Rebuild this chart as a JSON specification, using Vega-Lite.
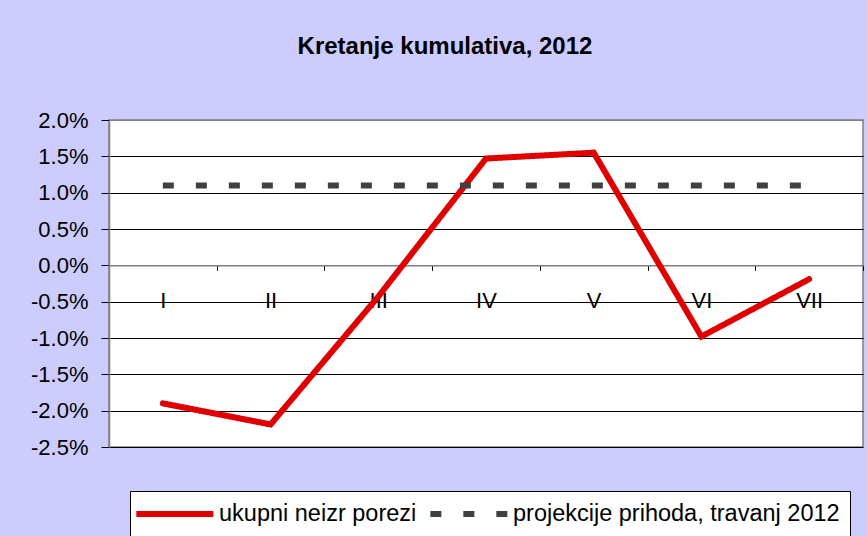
{
  "$schema": "https://vega.github.io/schema/vega-lite/v6.json",
  "width": 754,
  "height": 327,
  "autosize": {"type": "none"},
  "padding": {"left": 109, "top": 120, "right": 4, "bottom": 89},
  "background": "#CCCCFF",
  "title": {
    "text": "Kretanje kumulativa, 2012",
    "font": "Liberation Sans",
    "fontSize": 24,
    "fontWeight": "bold",
    "color": "black",
    "anchor": "middle",
    "frame": "group",
    "dx": -41,
    "offset": 50
  },
  "config": {
    "view": {"fill": "white", "stroke": "#808080", "strokeWidth": 1.5},
    "font": "Liberation Sans"
  },
  "data": {
    "values": [
      {"month": "I", "series": "ukupni neizr porezi", "value": -0.0190},
      {"month": "II", "series": "ukupni neizr porezi", "value": -0.0219},
      {"month": "III", "series": "ukupni neizr porezi", "value": -0.0043},
      {"month": "IV", "series": "ukupni neizr porezi", "value": 0.0147},
      {"month": "V", "series": "ukupni neizr porezi", "value": 0.0155},
      {"month": "VI", "series": "ukupni neizr porezi", "value": -0.0098},
      {"month": "VII", "series": "ukupni neizr porezi", "value": -0.0019},
      {"month": "I", "series": "projekcije prihoda, travanj 2012", "value": 0.011},
      {"month": "II", "series": "projekcije prihoda, travanj 2012", "value": 0.011},
      {"month": "III", "series": "projekcije prihoda, travanj 2012", "value": 0.011},
      {"month": "IV", "series": "projekcije prihoda, travanj 2012", "value": 0.011},
      {"month": "V", "series": "projekcije prihoda, travanj 2012", "value": 0.011},
      {"month": "VI", "series": "projekcije prihoda, travanj 2012", "value": 0.011},
      {"month": "VII", "series": "projekcije prihoda, travanj 2012", "value": 0.011}
    ]
  },
  "encoding": {
    "x": {
      "field": "month",
      "type": "ordinal",
      "sort": ["I", "II", "III", "IV", "V", "VI", "VII"],
      "bandPosition": 0.5,
      "scale": {"type": "band", "paddingInner": 0, "paddingOuter": 0},
      "axis": {
        "title": null,
        "orient": "bottom",
        "offset": -181.67,
        "labelAngle": 0,
        "labelFont": "Liberation Sans",
        "labelFontSize": 22,
        "labelColor": "black",
        "labelPadding": 20,
        "domainColor": "#808080",
        "domainWidth": 1.5,
        "tickColor": "black",
        "tickSize": 5,
        "tickBand": "extent",
        "grid": false
      }
    },
    "y": {
      "field": "value",
      "type": "quantitative",
      "scale": {"domain": [-0.025, 0.02], "nice": false, "zero": false},
      "axis": {
        "title": null,
        "values": [-0.025, -0.02, -0.015, -0.01, -0.005, 0, 0.005, 0.01, 0.015, 0.02],
        "format": ".1%",
        "labelExpr": "replace(datum.label, '\u2212', '-')",
        "labelFont": "Liberation Sans",
        "labelFontSize": 22,
        "labelColor": "black",
        "labelPadding": 13,
        "tickSize": 8,
        "tickColor": "black",
        "domainColor": "#808080",
        "domainWidth": 1.5,
        "grid": true,
        "gridColor": {"condition": {"test": "datum.value === 0.02 || datum.value === 0", "value": "#808080"}, "value": "black"},
        "gridWidth": 1
      }
    },
    "color": {
      "field": "series",
      "type": "nominal",
      "scale": {
        "domain": ["ukupni neizr porezi", "projekcije prihoda, travanj 2012"],
        "range": ["#E00000", "#404040"]
      },
      "legend": {
        "title": null,
        "orient": "none",
        "legendX": 21,
        "legendY": 371,
        "direction": "horizontal",
        "fillColor": "white",
        "strokeColor": "black",
        "padding": 10,
        "symbolType": "M-1.73,0H6.27",
        "symbolSize": 370.5,
        "symbolStrokeWidth": 6,
        "labelFont": "Liberation Sans",
        "labelFontSize": 23.5,
        "labelColor": "black",
        "labelLimit": 500,
        "labelOffset": 53,
        "columnPadding": 1
      }
    },
    "strokeDash": {
      "field": "series",
      "type": "nominal",
      "scale": {
        "domain": ["ukupni neizr porezi", "projekcije prihoda, travanj 2012"],
        "range": [[1, 0], [11, 22]]
      },
      "legend": {
        "title": null,
        "orient": "none",
        "legendX": 21,
        "legendY": 371,
        "direction": "horizontal",
        "fillColor": "white",
        "strokeColor": "black",
        "padding": 10,
        "symbolType": "M-1.73,0H6.27",
        "symbolSize": 370.5,
        "symbolStrokeWidth": 6,
        "labelFont": "Liberation Sans",
        "labelFontSize": 23.5,
        "labelColor": "black",
        "labelLimit": 500,
        "labelOffset": 53,
        "columnPadding": 1
      }
    }
  },
  "layer": [
    {
      "transform": [{"filter": "datum.series === 'ukupni neizr porezi'"}],
      "mark": {"type": "line", "strokeWidth": 6, "strokeCap": "round", "strokeJoin": "miter"}
    },
    {
      "transform": [{"filter": "datum.series === 'projekcije prihoda, travanj 2012'"}],
      "mark": {"type": "line", "strokeWidth": 6, "strokeCap": "butt"}
    }
  ]
}
